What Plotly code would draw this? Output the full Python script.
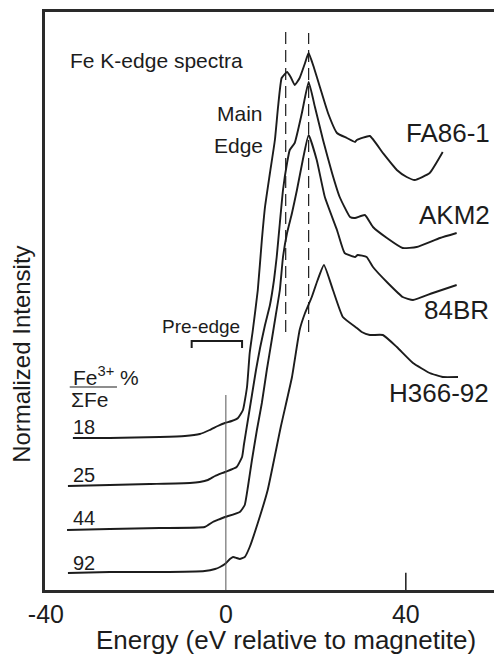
import plotly.graph_objects as go

# ---- data (energy in eV relative to magnetite, intensity in stacked arbitrary units) ----
fa86_e = [-34.0, -25.8, -14.7, -9.1, -5.8, -3.6, -1.8, -0.2, 1.3, 2.7, 3.8, 4.7, 5.3, 6.0, 7.1, 8.0,
          8.7, 9.8, 10.9, 11.6, 12.4, 13.6, 14.4, 15.3, 16.4, 17.6, 18.4, 19.6, 20.9, 22.7, 24.7,
          26.9, 28.7, 29.1, 32.0, 34.9, 38.0, 40.2, 42.0, 45.3, 48.2]
fa86_i = [1.52, 1.52, 1.53, 1.54, 1.56, 1.60, 1.64, 1.67, 1.69, 1.72, 1.80, 2.03, 2.37, 2.60, 3.00, 3.50,
          3.83, 4.17, 4.50, 4.83, 5.12, 5.18, 5.13, 5.05, 5.12, 5.27, 5.37, 5.22, 5.03, 4.77, 4.57,
          4.52, 4.48, 4.50, 4.54, 4.37, 4.20, 4.13, 4.10, 4.17, 4.38]

akm2_e = [-35.1, -25.8, -16.9, -8.0, -5.8, -4.0, -2.4, -0.2, 2.4, 3.6, 4.0, 4.9, 5.8, 6.7, 7.6, 8.7,
          9.8, 10.7, 11.3, 12.0, 12.7, 13.6, 14.2, 15.3, 16.9, 18.4, 19.8, 21.6, 23.6, 25.3, 27.6,
          28.7, 30.9, 32.7, 35.8, 39.3, 42.4, 47.6, 51.3]
akm2_i = [1.04, 1.05, 1.06, 1.07, 1.08, 1.10, 1.14, 1.18, 1.23, 1.33, 1.45, 1.70, 1.95, 2.20, 2.42, 2.65,
          2.85, 3.10, 3.33, 3.67, 4.00, 4.27, 4.40, 4.47, 4.77, 5.08, 4.83, 4.50, 4.17, 3.93, 3.73,
          3.72, 3.75, 3.63, 3.52, 3.42, 3.43, 3.52, 3.57]

br84_e = [-35.3, -25.8, -14.7, -4.7, -2.9, -1.3, -0.2, 3.1, 4.2, 4.9, 5.8, 6.9, 8.0, 9.1, 10.2, 11.1,
          12.0, 12.7, 13.6, 14.7, 15.8, 17.1, 18.4, 20.2, 22.0, 24.7, 26.4, 28.7, 29.3, 31.3, 32.7,
          36.0, 39.3, 41.6, 46.0, 51.3]
br84_i = [0.60, 0.61, 0.62, 0.63, 0.68, 0.71, 0.73, 0.78, 0.85, 1.03, 1.30, 1.60, 1.87, 2.20, 2.50, 2.75,
          3.00, 3.33, 3.57, 3.77, 4.00, 4.30, 4.55, 4.30, 3.93, 3.60, 3.37, 3.33, 3.35, 3.33, 3.23,
          3.07, 2.93, 2.90, 2.97, 3.05]

h366_e = [-35.1, -25.8, -14.7, -4.7, -2.4, -1.3, -0.2, 0.9, 1.6, 2.4, 3.1, 4.2, 5.3, 7.1, 9.3, 12.2,
          14.7, 16.4, 17.6, 19.1, 20.4, 21.8, 23.8, 26.0, 29.1, 30.2, 32.0, 34.9, 38.0, 41.6, 45.3,
          48.2, 51.6]
h366_i = [0.17, 0.18, 0.18, 0.19, 0.21, 0.23, 0.26, 0.31, 0.33, 0.32, 0.31, 0.33, 0.43, 0.67, 1.00, 1.63,
          2.13, 2.60, 2.77, 2.93, 3.10, 3.25, 3.00, 2.73, 2.62, 2.58, 2.55, 2.55, 2.43, 2.27, 2.17,
          2.13, 2.13]

series_names = ["FA86-1", "AKM2", "84BR", "H366-92"]
fe3_percent = ["18", "25", "44", "92"]
x_tick_vals = [-40, 0, 40]
x_tick_text = ["-40", "0", "40"]
dashed_peak_e = [13.3, 18.4]

FONT = "Liberation Sans, Arial, sans-serif"
INK = "#1c1c1c"

fig = go.Figure()
for e, i, name in [(fa86_e, fa86_i, series_names[0]), (akm2_e, akm2_i, series_names[1]),
                   (br84_e, br84_i, series_names[2]), (h366_e, h366_i, series_names[3])]:
    fig.add_trace(go.Scatter(x=e, y=i, mode="lines", name=name, showlegend=False, hoverinfo="skip",
                             line=dict(color=INK, width=1.9, shape="spline", smoothing=0.4)))

shapes = []
# dashed reference lines at the main-edge features
for xe, ytop in zip(dashed_peak_e, [5.63, 5.57]):
    shapes.append(dict(type="line", xref="x", yref="y", x0=xe, x1=xe, y0=2.58, y1=ytop,
                       line=dict(color=INK, width=1.2, dash="12px,6px")))
# thin line at 0 eV
shapes.append(dict(type="line", xref="x", yref="y", x0=0, x1=0, y0=0, y1=1.95,
                   line=dict(color="#555", width=1)))
# bottom tick at 40
shapes.append(dict(type="line", xref="x", yref="paper", x0=40, x1=40, y0=0, y1=0.03,
                   line=dict(color=INK, width=1.5)))
# pre-edge bracket
shapes.append(dict(type="path", xref="x", yref="y",
                   path="M -7.6,2.42 L -7.6,2.49 L 3.6,2.49 L 3.6,2.42",
                   line=dict(color=INK, width=2)))
# fraction bar
shapes.append(dict(type="line", xref="x", yref="y", x0=-34.7, x1=-24.2, y0=2.03, y1=2.03,
                   line=dict(color=INK, width=1.2)))

ann = []
def A(text, x, y, size, xanchor="left", **kw):
    d = dict(text=text, x=x, y=y, xref="x", yref="y", showarrow=False, xanchor=xanchor,
             yanchor="middle", font=dict(family=FONT, size=size, color=INK))
    d.update(kw)
    ann.append(d)

A("Fe K-edge spectra", -35.1, 5.30, 21)
A("Main", 8.6, 4.77, 21, xanchor="right")
A("Edge", 8.6, 4.45, 21, xanchor="right")
A(series_names[0], 59.1, 4.57, 26, xanchor="right")
A(series_names[1], 59.1, 3.75, 26, xanchor="right")
A(series_names[2], 59.0, 2.80, 26, xanchor="right")
A(series_names[3], 59.0, 1.97, 26, xanchor="right")
A("Pre-edge", -5.6, 2.64, 19, xanchor="center")
A("Fe<sup>3+</sup> %", -34.4, 2.14, 21)
A("ΣFe", -34.9, 1.91, 21)
for lab, yy in zip(fe3_percent, [1.63, 1.15, 0.72, 0.27]):
    A(lab, -34.4, yy, 20)

ann.append(dict(text="Energy (eV relative to magnetite)", x=13.3, xref="x", y=-0.087, yref="paper",
                showarrow=False, xanchor="center", yanchor="middle",
                font=dict(family=FONT, size=26, color=INK)))
ann.append(dict(text="Normalized Intensity", x=-0.052, xref="paper", y=0.408, yref="paper",
                showarrow=False, xanchor="center", yanchor="middle", textangle=-90,
                font=dict(family=FONT, size=24, color=INK)))

fig.update_layout(
    width=494, height=656,
    margin=dict(l=45, r=0, t=12, b=66),
    paper_bgcolor="white", plot_bgcolor="white",
    shapes=shapes, annotations=ann,
    xaxis=dict(range=[-40.2, 59.6], tickvals=x_tick_vals, ticktext=x_tick_text, ticks="",
               showline=True, linewidth=2.5, linecolor="#2a2a2a", mirror=True,
               showgrid=False, zeroline=False,
               tickfont=dict(family=FONT, size=25, color=INK)),
    xaxis2=dict(range=[-40.2, 59.6], overlaying="x", side="top", tickvals=[0, 40],
                ticks="inside", ticklen=24, tickwidth=1.5, tickcolor=INK,
                showticklabels=False, showgrid=False, zeroline=False, showline=False),
    yaxis=dict(range=[0, 5.78], showticklabels=False, ticks="", showgrid=False, zeroline=False,
               showline=True, linewidth=2.5, linecolor="#2a2a2a"),
)
fig.write_html("out.html", config={"displayModeBar": False},
               post_script="document.body.style.margin='0px';document.body.style.padding='0px';")
